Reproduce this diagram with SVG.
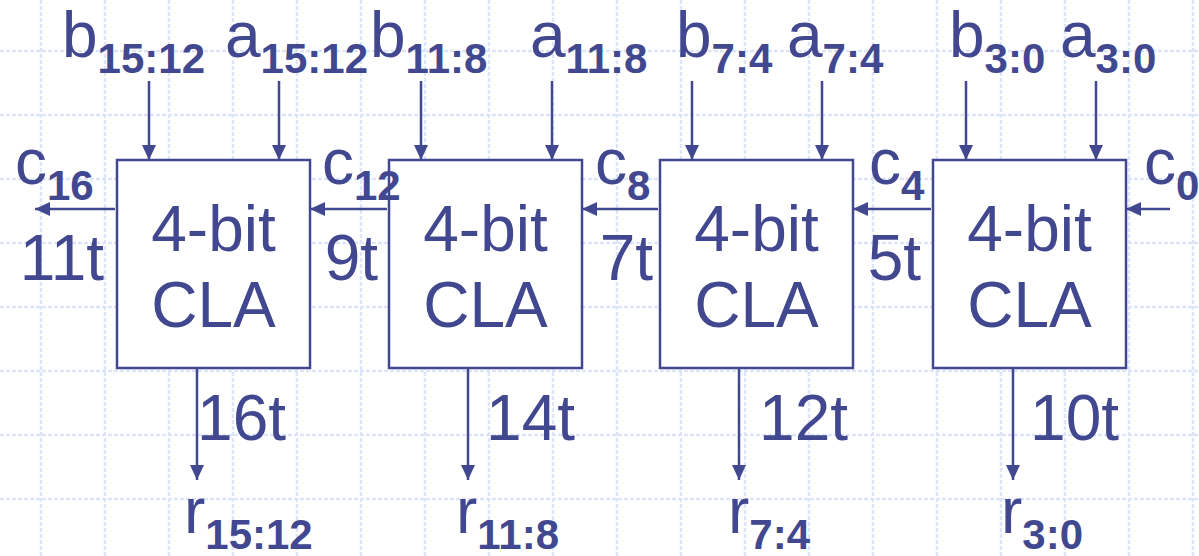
<svg xmlns="http://www.w3.org/2000/svg" width="1199" height="556" viewBox="0 0 1199 556">
<style>
.grid line{stroke:#dde5f8;stroke-width:2.5;stroke-dasharray:4 2}
.box{fill:#ffffff;stroke:#414890;stroke-width:2.5}
.wire{stroke:#414890;stroke-width:2.5;fill:none;marker-end:url(#ah)}
text{font-family:"Liberation Sans",Arial,sans-serif;fill:#414890;font-size:64px}
.sub{font-weight:bold;font-size:42px}
.mid{text-anchor:middle}
.end{text-anchor:end}
</style>
<defs>
<marker id="ah" markerUnits="userSpaceOnUse" markerWidth="16" markerHeight="15" refX="15" refY="7" orient="auto">
<path d="M0,0 L15,7 L0,14 z" fill="#414890"/>
</marker>
</defs>
<rect width="1199" height="556" fill="#ffffff"/>
<g class="grid">
<line x1="41" y1="0" x2="41" y2="556"/><line x1="105" y1="0" x2="105" y2="556"/><line x1="169" y1="0" x2="169" y2="556"/><line x1="233" y1="0" x2="233" y2="556"/><line x1="297" y1="0" x2="297" y2="556"/><line x1="361" y1="0" x2="361" y2="556"/><line x1="425" y1="0" x2="425" y2="556"/><line x1="489" y1="0" x2="489" y2="556"/><line x1="553" y1="0" x2="553" y2="556"/><line x1="617" y1="0" x2="617" y2="556"/><line x1="681" y1="0" x2="681" y2="556"/><line x1="745" y1="0" x2="745" y2="556"/><line x1="809" y1="0" x2="809" y2="556"/><line x1="873" y1="0" x2="873" y2="556"/><line x1="937" y1="0" x2="937" y2="556"/><line x1="1001" y1="0" x2="1001" y2="556"/><line x1="1065" y1="0" x2="1065" y2="556"/><line x1="1129" y1="0" x2="1129" y2="556"/><line x1="1193" y1="0" x2="1193" y2="556"/>
<line x1="0" y1="51" x2="1199" y2="51"/><line x1="0" y1="115" x2="1199" y2="115"/><line x1="0" y1="179" x2="1199" y2="179"/><line x1="0" y1="243" x2="1199" y2="243"/><line x1="0" y1="307" x2="1199" y2="307"/><line x1="0" y1="371" x2="1199" y2="371"/><line x1="0" y1="435" x2="1199" y2="435"/><line x1="0" y1="499" x2="1199" y2="499"/>
</g>
<g id="cla3">
<rect class="box" x="117" y="160" width="193" height="208"/>
<text class="mid" x="213.5" y="251">4-bit</text>
<text class="mid" x="213.5" y="327">CLA</text>
</g>
<g id="cla2">
<rect class="box" x="389" y="160" width="193" height="208"/>
<text class="mid" x="485.5" y="251">4-bit</text>
<text class="mid" x="485.5" y="327">CLA</text>
</g>
<g id="cla1">
<rect class="box" x="660" y="160" width="193" height="208"/>
<text class="mid" x="756.5" y="251">4-bit</text>
<text class="mid" x="756.5" y="327">CLA</text>
</g>
<g id="cla0">
<rect class="box" x="933" y="160" width="193" height="208"/>
<text class="mid" x="1029.5" y="251">4-bit</text>
<text class="mid" x="1029.5" y="327">CLA</text>
</g>
<g id="connectors">
<line class="wire" x1="149" y1="81" x2="149" y2="160"/>
<line class="wire" x1="279" y1="81" x2="279" y2="160"/>
<line class="wire" x1="421" y1="81" x2="421" y2="160"/>
<line class="wire" x1="552" y1="81" x2="552" y2="160"/>
<line class="wire" x1="692" y1="81" x2="692" y2="160"/>
<line class="wire" x1="822" y1="81" x2="822" y2="160"/>
<line class="wire" x1="966" y1="81" x2="966" y2="160"/>
<line class="wire" x1="1096" y1="81" x2="1096" y2="160"/>
<line class="wire" x1="115" y1="209" x2="35" y2="209"/>
<line class="wire" x1="387" y1="209" x2="310" y2="209"/>
<line class="wire" x1="658" y1="209" x2="582" y2="209"/>
<line class="wire" x1="931" y1="209" x2="853" y2="209"/>
<line class="wire" x1="1170" y1="209" x2="1126" y2="209"/>
<line class="wire" x1="197" y1="368" x2="197" y2="480"/>
<line class="wire" x1="468" y1="368" x2="468" y2="480"/>
<line class="wire" x1="739" y1="368" x2="739" y2="480"/>
<line class="wire" x1="1013" y1="368" x2="1013" y2="480"/>
</g>
<g id="labels">
<text x="62" y="57">b<tspan class="sub" dy="16">15:12</tspan></text>
<text x="225" y="57">a<tspan class="sub" dy="16">15:12</tspan></text>
<text x="370" y="57">b<tspan class="sub" dy="16">11:8</tspan></text>
<text x="530" y="57">a<tspan class="sub" dy="16">11:8</tspan></text>
<text x="676" y="57">b<tspan class="sub" dy="16">7:4</tspan></text>
<text x="787" y="57">a<tspan class="sub" dy="16">7:4</tspan></text>
<text x="949" y="57">b<tspan class="sub" dy="16">3:0</tspan></text>
<text x="1060" y="57">a<tspan class="sub" dy="16">3:0</tspan></text>
<text x="15" y="184">c<tspan class="sub" dy="16">16</tspan></text>
<text x="322" y="184">c<tspan class="sub" dy="16">12</tspan></text>
<text x="595" y="184">c<tspan class="sub" dy="16">8</tspan></text>
<text x="869" y="184">c<tspan class="sub" dy="16">4</tspan></text>
<text x="1144" y="184">c<tspan class="sub" dy="16">0</tspan></text>
<text class="end" x="104" y="280">11t</text>
<text class="end" x="378" y="280">9t</text>
<text class="end" x="653" y="280">7t</text>
<text class="end" x="921" y="280">5t</text>
<text class="end" x="286" y="440">16t</text>
<text class="end" x="575" y="440">14t</text>
<text class="end" x="848" y="440">12t</text>
<text class="end" x="1119" y="440">10t</text>
<text x="184" y="533">r<tspan class="sub" dy="16">15:12</tspan></text>
<text x="456" y="533">r<tspan class="sub" dy="16">11:8</tspan></text>
<text x="728" y="533">r<tspan class="sub" dy="16">7:4</tspan></text>
<text x="1001" y="533">r<tspan class="sub" dy="16">3:0</tspan></text>
</g>
</svg>
